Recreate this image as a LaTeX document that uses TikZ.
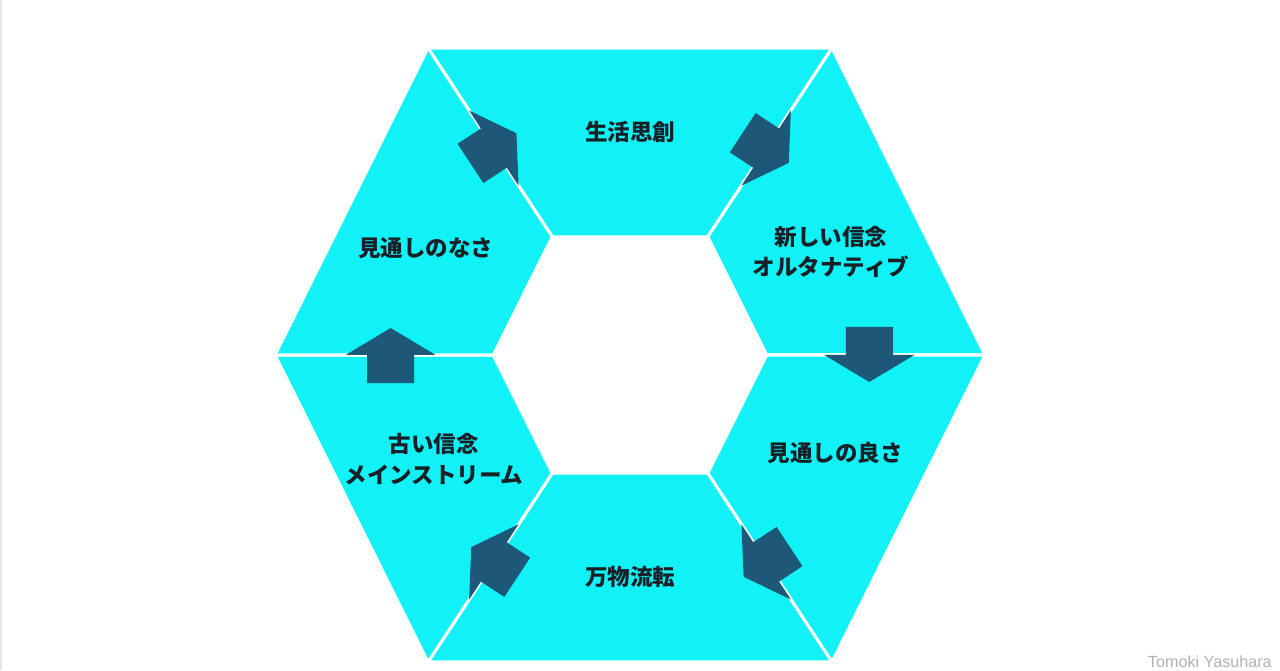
\documentclass[tikz,border=0pt]{standalone}
\usepackage{fontspec}
\newfontfamily\jpfont{Noto Sans CJK JP}
\setsansfont{Liberation Sans}
\usetikzlibrary{calc}
\definecolor{ringcyan}{RGB}{16,242,246}
\definecolor{arrowblue}{RGB}{30,88,120}
\definecolor{labeltext}{RGB}{22,32,38}
\tikzset{
  segment/.style={fill=ringcyan,draw=white,line width=2.2pt,line join=miter},
  stagelabel/.style={font=\jpfont\bfseries\fontsize{16}{21.5}\selectfont,text=labeltext,align=center},
  credit/.style={font=\sffamily\fontsize{11.5}{13}\selectfont,text=gray!60,inner sep=0pt}
}
% block arrow: head base on the point, pointing along the angle
\newcommand{\ringarrow}[2]{%
  \begin{scope}[shift={(#1)},rotate=#2]
    \fill[arrowblue] (-28,-23.5) -- (0,-23.5) -- (0,-45) -- (27,0)
      -- (0,45) -- (0,23.5) -- (-28,23.5) -- cycle;
  \end{scope}}
\begin{document}
\begin{tikzpicture}[x=0.025cm,y=0.025cm]
  \pgfmathsetmacro\ang{atan2(307,202)}
  \useasboundingbox (-630,-315) rectangle (650,355);
  \fill[white] (-630,-315) rectangle (650,355);
  \draw[gray!18,line width=1.2pt] (-629,-315) -- (-629,355);
  % outer and inner corners of the ring:
  \coordinate (o1) at (202,307);
  \coordinate (o2) at (355,0);
  \coordinate (o3) at (202,-307);
  \coordinate (o4) at (-202,-307);
  \coordinate (o5) at (-355,0);
  \coordinate (o6) at (-202,307);
  \foreach \k in {1,...,6} {
    \coordinate (i\k) at ($(0,0)!0.385!(o\k)$);
    \coordinate (b\k) at ($(0,0)!0.674!(o\k)$);
  }
  % six segments of the ring:
  \foreach \a/\b in {6/1,1/2,2/3,3/4,4/5,5/6}
    \filldraw[segment] (o\a) -- (o\b) -- (i\b) -- (i\a) -- cycle;
  % arrows across the borders, clockwise:
  \ringarrow{b1}{\ang-90}
  \ringarrow{b2}{-90}
  \ringarrow{b3}{-90-\ang}
  \ringarrow{b4}{90+\ang}
  \ringarrow{b5}{90}
  \ringarrow{b6}{90-\ang}
  % stage labels:
  \node[stagelabel] (create) at (0,223) {生活思創};
  \node[stagelabel] (newbelief) at (201,103) {新しい信念\\オルタナティブ};
  \node[stagelabel] (clear) at (205,-98) {見通しの良さ};
  \node[stagelabel] (flux) at (0,-222) {万物流転};
  \node[stagelabel] (oldbelief) at (-196,-104) {古い信念\\メインストリーム};
  \node[stagelabel] (unclear) at (-204,107) {見通しのなさ};
  % name in the corner:
  \node[credit,anchor=south east] (author) at (642,-313) {Tomoki Yasuhara};
\end{tikzpicture}
\end{document}
